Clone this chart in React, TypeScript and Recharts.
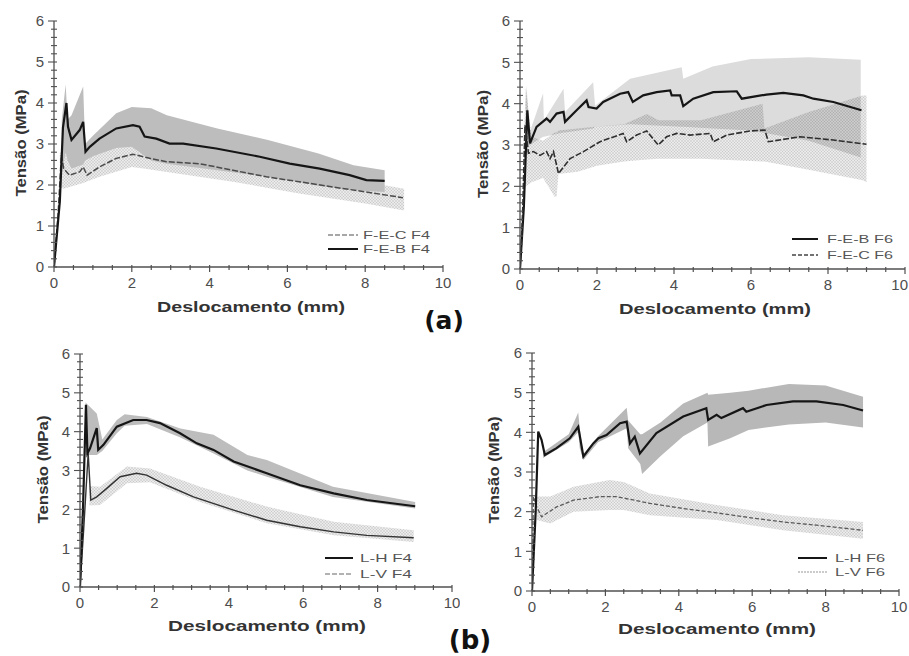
import React from "react";
import { ComposedChart, Line, Area, XAxis, YAxis, Label } from "recharts";

// ---- axis ticks (mm / MPa) ----
const X_TICKS = [0, 0.5, 1, 1.5, 2, 2.5, 3, 3.5, 4, 4.5, 5, 5.5, 6, 6.5, 7, 7.5, 8, 8.5, 9, 9.5, 10];
const Y_TICKS = [
  0, 0.2, 0.4, 0.6, 0.8, 1, 1.2, 1.4, 1.6, 1.8, 2, 2.2, 2.4, 2.6, 2.8, 3, 3.2, 3.4, 3.6, 3.8, 4,
  4.2, 4.4, 4.6, 4.8, 5, 5.2, 5.4, 5.6, 5.8, 6,
];

// ---- (a) left: F4 ----
const febF4X = [0, 0.15, 0.23, 0.32, 0.36, 0.45, 0.66, 0.75, 0.81, 0.92, 1.17, 1.6, 2.03, 2.2, 2.33, 2.63, 2.97, 3.32, 4.17, 5.29, 6.06, 6.83, 7.6, 8.03, 8.5];
const febF4Y = [0, 1.6, 3.4, 4.0, 3.42, 3.1, 3.34, 3.54, 2.81, 2.93, 3.13, 3.38, 3.46, 3.42, 3.18, 3.13, 3.01, 3.01, 2.89, 2.69, 2.52, 2.4, 2.24, 2.12, 2.1];
const febF4BandX = [0.2, 0.3, 0.35, 0.45, 0.75, 0.8, 1.0, 1.6, 2.0, 2.5, 2.9, 4.2, 5.5, 6.8, 7.7, 8.5];
const febF4Hi = [3.6, 4.45, 3.6, 3.7, 4.4, 3.0, 3.2, 3.75, 3.9, 3.87, 3.7, 3.38, 3.1, 2.77, 2.48, 2.36];
const febF4Lo = [2.3, 2.8, 2.6, 2.4, 2.5, 2.6, 2.7, 2.9, 2.93, 2.6, 2.52, 2.36, 2.2, 1.98, 1.87, 1.83];

const fecF4X = [0, 0.1, 0.19, 0.25, 0.4, 0.66, 0.75, 0.85, 1.17, 1.6, 2.03, 2.46, 2.89, 3.74, 4.6, 5.46, 6.3, 7.17, 8.03, 8.97];
const fecF4Y = [0, 1.2, 2.73, 2.4, 2.24, 2.32, 2.44, 2.24, 2.44, 2.65, 2.75, 2.65, 2.57, 2.52, 2.36, 2.2, 2.08, 1.95, 1.83, 1.69];
const fecF4BandX = [0.15, 0.25, 0.4, 0.75, 1.17, 2.0, 2.3, 2.9, 4.6, 6.3, 8.0, 9.0];
const fecF4Hi = [2.77, 2.9, 2.8, 2.93, 2.9, 3.01, 2.95, 2.65, 2.52, 2.32, 2.08, 1.91];
const fecF4Lo = [1.95, 1.91, 1.95, 2.05, 2.2, 2.44, 2.4, 2.32, 2.08, 1.79, 1.55, 1.38];

// ---- (a) right: F6 ----
const febF6X = [0, 0.1, 0.19, 0.26, 0.43, 0.69, 0.78, 0.95, 1.13, 1.17, 1.47, 1.73, 1.78, 1.99, 2.16, 2.6, 2.81, 2.93, 3.2, 3.55, 3.9, 3.94, 4.16, 4.24, 4.5, 5.02, 5.63, 5.76, 6.4, 6.84, 7.36, 7.62, 8.14, 8.87];
const febF6Y = [0, 1.5, 3.84, 3.04, 3.44, 3.64, 3.56, 3.76, 3.8, 3.56, 3.84, 4.08, 3.92, 3.88, 4.04, 4.24, 4.28, 4.04, 4.2, 4.28, 4.32, 4.2, 4.2, 3.94, 4.12, 4.28, 4.3, 4.12, 4.22, 4.26, 4.2, 4.12, 4.04, 3.84];
const febF6BandX = [0.15, 0.17, 0.25, 0.6, 0.62, 1.13, 1.17, 1.9, 1.95, 2.86, 4.2, 4.24, 5.0, 6.0, 7.5, 8.85];
const febF6Hi = [4.0, 4.45, 3.3, 4.25, 3.6, 4.36, 3.8, 4.52, 3.95, 4.6, 4.88, 4.6, 4.9, 5.08, 5.12, 5.06];
const febF6Lo = [2.6, 2.9, 3.0, 3.2, 3.2, 3.3, 3.3, 3.4, 3.44, 3.5, 3.44, 3.44, 3.4, 3.35, 3.1, 2.7];

const fecF6X = [0, 0.07, 0.13, 0.22, 0.35, 0.52, 0.69, 0.78, 0.87, 1.0, 1.3, 1.65, 2.08, 2.68, 2.77, 3.03, 3.29, 3.59, 3.81, 4.07, 4.42, 4.94, 5.02, 5.37, 5.97, 6.36, 6.45, 7.27, 8.14, 9.0];
const fecF6Y = [0, 1.4, 3.48, 2.8, 2.84, 2.75, 2.84, 2.67, 2.84, 2.31, 2.67, 2.84, 3.08, 3.28, 3.08, 3.24, 3.34, 3.0, 3.2, 3.28, 3.24, 3.28, 3.08, 3.24, 3.34, 3.36, 3.08, 3.2, 3.12, 3.02];
const fecF6BandX = [0.1, 0.15, 0.3, 0.6, 0.9, 0.95, 1.0, 1.5, 2.0, 2.7, 3.3, 3.6, 4.7, 6.3, 6.35, 7.5, 8.9, 9.0];
const fecF6Hi = [3.2, 4.4, 3.2, 3.1, 3.3, 3.3, 3.35, 3.4, 3.45, 3.5, 3.75, 3.6, 3.6, 4.0, 3.4, 3.8, 4.2, 4.2];
const fecF6Lo = [1.9, 2.0, 2.1, 2.2, 1.75, 1.75, 2.3, 2.35, 2.5, 2.6, 2.65, 2.67, 2.67, 2.6, 2.6, 2.4, 2.15, 2.1];

// ---- (b) left: L F4 ----
const lhF4X = [0, 0.08, 0.16, 0.2, 0.27, 0.45, 0.49, 0.63, 0.99, 1.43, 1.79, 2.15, 2.69, 3.14, 3.59, 4.13, 5.02, 5.92, 6.82, 7.71, 9.01];
const lhF4Y = [0, 2.0, 4.69, 3.44, 3.57, 4.09, 3.53, 3.66, 4.13, 4.3, 4.3, 4.22, 3.96, 3.7, 3.53, 3.23, 2.93, 2.62, 2.41, 2.24, 2.08];
const lhF4BandX = [0.15, 0.45, 0.6, 0.99, 1.2, 1.8, 2.7, 3.59, 4.5, 5.02, 6.8, 9.01];
const lhF4Hi = [4.75, 4.47, 3.8, 4.3, 4.45, 4.38, 4.08, 3.92, 3.4, 3.27, 2.58, 2.19];
const lhF4Lo = [3.4, 3.4, 3.5, 3.96, 4.15, 4.2, 3.85, 3.44, 3.0, 2.84, 2.32, 2.02];

const lvF4X = [0, 0.1, 0.22, 0.29, 0.45, 0.72, 1.08, 1.52, 1.79, 2.33, 3.05, 4.13, 5.02, 5.92, 6.82, 7.71, 8.97];
const lvF4Y = [0, 1.5, 3.44, 2.24, 2.32, 2.54, 2.84, 2.93, 2.88, 2.62, 2.32, 1.98, 1.72, 1.55, 1.42, 1.33, 1.27];
const lvF4BandX = [0.25, 0.54, 1.26, 1.88, 3.23, 5.02, 6.82, 8.97];
const lvF4Hi = [2.6, 2.58, 3.1, 3.05, 2.58, 2.07, 1.68, 1.46];
const lvF4Lo = [2.1, 2.11, 2.67, 2.7, 2.19, 1.64, 1.33, 1.16];

// ---- (b) right: L F6 ----
const lhF6X = [0, 0.1, 0.17, 0.26, 0.35, 0.67, 1.03, 1.26, 1.4, 1.67, 1.81, 2.03, 2.4, 2.58, 2.67, 2.8, 2.94, 3.39, 4.12, 4.75, 4.8, 5.03, 5.16, 5.75, 5.84, 6.39, 7.11, 7.75, 8.48, 9.02];
const lhF6Y = [0, 2.0, 4.02, 3.81, 3.43, 3.6, 3.85, 4.14, 3.39, 3.72, 3.85, 3.93, 4.23, 4.27, 3.72, 3.89, 3.47, 3.98, 4.4, 4.61, 4.31, 4.44, 4.36, 4.61, 4.52, 4.69, 4.78, 4.78, 4.69, 4.55];
const lhF6BandX = [0.3, 1.0, 1.26, 1.3, 1.4, 1.8, 2.58, 2.62, 2.95, 3.0, 3.5, 4.12, 4.78, 4.8, 5.4, 5.9, 7.0, 8.0, 9.02];
const lhF6Hi = [3.5, 3.95, 4.5, 4.1, 3.45, 3.9, 4.62, 4.3, 3.95, 3.95, 4.25, 4.73, 5.0, 4.95, 5.0, 5.05, 5.22, 5.18, 4.9];
const lhF6Lo = [3.35, 3.75, 4.0, 3.6, 3.3, 3.75, 4.1, 3.6, 3.2, 2.95, 3.4, 3.9, 4.25, 3.64, 3.85, 4.06, 4.2, 4.25, 4.12];

const lvF6X = [0, 0.02, 0.04, 0.13, 0.26, 0.67, 1.13, 1.85, 2.3, 3.21, 4.12, 5.03, 5.93, 6.84, 7.75, 9.02];
const lvF6Y = [0, 1.2, 2.38, 2.12, 1.87, 2.12, 2.29, 2.38, 2.38, 2.21, 2.08, 1.97, 1.85, 1.74, 1.66, 1.53];
const lvF6BandX = [0.13, 0.5, 1.13, 2.12, 2.5, 3.21, 5.03, 6.84, 9.02];
const lvF6Hi = [2.38, 2.38, 2.63, 2.8, 2.75, 2.46, 2.17, 1.91, 1.74];
const lvF6Lo = [1.79, 1.7, 2.0, 2.04, 2.04, 1.91, 1.79, 1.53, 1.32];

const pts = (xs: number[], ys: number[]) => xs.map((x, i) => ({ x, y: ys[i] }));
const band = (xs: number[], lo: number[], hi: number[]) => xs.map((x, i) => ({ x, r: [lo[i], hi[i]] }));

const SANS = '"Liberation Sans", Arial, sans-serif';
const AXIS = "#505050";
const TICK_FILL = "#4d4d4d";

// x ticks every 0.5 mm, labels on the even values; `tightRight` pulls the last label in
const makeXTick = (tightRight: boolean) => (props: any) => {
  const { x, y, payload } = props;
  const v = payload.value as number;
  const major = Math.abs(v / 2 - Math.round(v / 2)) < 1e-6;
  const last = tightRight && v === 10;
  return (
    <g>
      <line x1={x} x2={x} y1={y - 2} y2={y + (major ? 5 : 3)} stroke={AXIS} strokeWidth={1.2} />
      {major && (
        <text
          x={last ? x + 3 : x}
          y={y + 21}
          textAnchor={last ? "end" : "middle"}
          fontFamily={SANS}
          fontSize={15}
          fill={TICK_FILL}
        >
          {v}
        </text>
      )}
    </g>
  );
};

function YTick(props: any) {
  const { x, y, payload } = props;
  const v = payload.value as number;
  const major = Math.abs(v - Math.round(v)) < 1e-6;
  return (
    <g>
      <line x1={major ? x - 6 : x - 3} x2={x + 3} y1={y} y2={y} stroke={AXIS} strokeWidth={1.1} />
      {major && (
        <text x={x - 10} y={y} dy="0.36em" textAnchor="end" fontFamily={SANS} fontSize={15} fill={TICK_FILL}>
          {v}
        </text>
      )}
    </g>
  );
}

type Series = { data: any[]; stroke: string; width: number; dash?: string };
type BandS = { data: any[]; fill: string };
type PanelProps = {
  id: string;
  left: number;
  top: number;
  width: number;
  height: number;
  margin: { top: number; right: number };
  yW: number;
  xH: number;
  tightRight?: boolean;
  bands: BandS[];
  lines: Series[];
  xTitle: { x: number; y: number; len: number };
  yTitle: { x: number; y: number; len: number };
};

function Panel(p: PanelProps) {
  const XTick = makeXTick(!!p.tightRight);
  return (
    <div style={{ position: "absolute", left: p.left, top: p.top }}>
      <ComposedChart width={p.width} height={p.height} margin={{ top: p.margin.top, right: p.margin.right, left: 0, bottom: 0 }}>
        <defs>
          <pattern id={`hatch-${p.id}`} width="3" height="3" patternUnits="userSpaceOnUse">
            <rect width="3" height="3" fill="#000" fillOpacity={0.08} />
            <path d="M0,0 L3,3 M3,0 L0,3" stroke="#000" strokeOpacity={0.1} strokeWidth={0.8} />
          </pattern>
        </defs>
        <XAxis
          dataKey="x"
          type="number"
          domain={[0, 10]}
          ticks={X_TICKS}
          interval={0}
          allowDataOverflow
          height={p.xH}
          tickSize={0}
          tickMargin={0}
          tickLine={false}
          axisLine={{ stroke: AXIS, strokeWidth: 1.3 }}
          tick={XTick}
        >
          <Label
            content={() => (
              <text
                x={p.xTitle.x}
                y={p.xTitle.y}
                textAnchor="middle"
                dominantBaseline="central"
                textLength={p.xTitle.len}
                lengthAdjust="spacingAndGlyphs"
                fontFamily={SANS}
                fontWeight="bold"
                fontSize={15}
                fill="#333"
              >
                Deslocamento (mm)
              </text>
            )}
          />
        </XAxis>
        <YAxis
          type="number"
          domain={[0, 6]}
          ticks={Y_TICKS}
          interval={0}
          allowDataOverflow
          width={p.yW}
          tickSize={0}
          tickMargin={0}
          tickLine={false}
          axisLine={{ stroke: AXIS, strokeWidth: 1.3 }}
          tick={YTick}
        >
          <Label
            content={() => (
              <text
                x={p.yTitle.x}
                y={p.yTitle.y}
                transform={`rotate(-90 ${p.yTitle.x} ${p.yTitle.y})`}
                textAnchor="middle"
                dominantBaseline="central"
                textLength={p.yTitle.len}
                lengthAdjust="spacingAndGlyphs"
                fontFamily={SANS}
                fontWeight="bold"
                fontSize={15}
                fill="#333"
              >
                Tensão (MPa)
              </text>
            )}
          />
        </YAxis>
        {p.bands.map((b, i) => (
          <Area
            key={`b${i}`}
            data={b.data}
            dataKey="r"
            type="linear"
            stroke="none"
            fill={b.fill.startsWith("url") ? b.fill.replace("ID", p.id) : b.fill}
            fillOpacity={1}
            isAnimationActive={false}
            activeDot={false}
          />
        ))}
        {p.lines.map((l, i) => (
          <Line
            key={`l${i}`}
            data={l.data}
            dataKey="y"
            type="linear"
            stroke={l.stroke}
            strokeWidth={l.width}
            strokeDasharray={l.dash}
            dot={false}
            activeDot={false}
            isAnimationActive={false}
          />
        ))}
      </ComposedChart>
    </div>
  );
}

type LegendItem = { label: string; stroke: string; width: number; dash?: string };
function LegendBox({ x1, x2, tx, rows, len, items }: { x1: number; x2: number; tx: number; rows: number[]; len: number; items: LegendItem[] }) {
  return (
    <g>
      {items.map((it, i) => (
        <g key={it.label}>
          <line x1={x1} x2={x2} y1={rows[i]} y2={rows[i]} stroke={it.stroke} strokeWidth={it.width} strokeDasharray={it.dash} />
          <text
            x={tx}
            y={rows[i]}
            dominantBaseline="central"
            textLength={len}
            lengthAdjust="spacingAndGlyphs"
            fontFamily={SANS}
            fontSize={11}
            fill="#555"
          >
            {it.label}
          </text>
        </g>
      ))}
    </g>
  );
}

const BLACK = "#161616";

export default function App() {
  return (
    <div style={{ position: "absolute", left: 0, top: 0, width: 909, height: 656, background: "#fff", overflow: "hidden" }}>
      <Panel
        id="p1"
        left={0}
        top={0}
        width={460}
        height={330}
        margin={{ top: 21, right: 17 }}
        yW={54}
        xH={63}
        bands={[
          { data: band(fecF4BandX, fecF4Lo, fecF4Hi), fill: "url(#hatch-ID)" },
          { data: band(febF4BandX, febF4Lo, febF4Hi), fill: "#bdbdbd" },
        ]}
        lines={[
          { data: pts(fecF4X, fecF4Y), stroke: "#4a4a4a", width: 1.5, dash: "6 2" },
          { data: pts(febF4X, febF4Y), stroke: BLACK, width: 2.2 },
        ]}
        xTitle={{ x: 251, y: 306, len: 188 }}
        yTitle={{ x: 20, y: 143, len: 107 }}
      />
      <Panel
        id="p2"
        left={460}
        top={0}
        width={449}
        height={330}
        margin={{ top: 21, right: 4 }}
        yW={60}
        xH={61}
        tightRight
        bands={[
          { data: band(febF6BandX, febF6Lo, febF6Hi), fill: "#dcdcdc" },
          { data: band(fecF6BandX, fecF6Lo, fecF6Hi), fill: "url(#hatch-ID)" },
        ]}
        lines={[
          { data: pts(febF6X, febF6Y), stroke: BLACK, width: 2.2 },
          { data: pts(fecF6X, fecF6Y), stroke: "#2e2e2e", width: 1.6, dash: "6 2" },
        ]}
        xTitle={{ x: 255, y: 308, len: 192 }}
        yTitle={{ x: 22, y: 144, len: 108 }}
      />
      <Panel
        id="p3"
        left={0}
        top={330}
        width={460}
        height={326}
        margin={{ top: 24, right: 8 }}
        yW={80}
        xH={69}
        bands={[
          { data: band(lvF4BandX, lvF4Lo, lvF4Hi), fill: "url(#hatch-ID)" },
          { data: band(lhF4BandX, lhF4Lo, lhF4Hi), fill: "#bdbdbd" },
        ]}
        lines={[
          { data: pts(lvF4X, lvF4Y), stroke: "#333", width: 1.4 },
          { data: pts(lhF4X, lhF4Y), stroke: BLACK, width: 2.2 },
        ]}
        xTitle={{ x: 267, y: 295, len: 198 }}
        yTitle={{ x: 42, y: 139.5, len: 108 }}
      />
      <Panel
        id="p4"
        left={460}
        top={330}
        width={449}
        height={326}
        margin={{ top: 23, right: 10 }}
        yW={72}
        xH={65}
        bands={[
          { data: band(lvF6BandX, lvF6Lo, lvF6Hi), fill: "url(#hatch-ID)" },
          { data: band(lhF6BandX, lhF6Lo, lhF6Hi), fill: "#b8b8b8" },
        ]}
        lines={[
          { data: pts(lvF6X, lvF6Y), stroke: "#5a5a5a", width: 1.3, dash: "4 2" },
          { data: pts(lhF6X, lhF6Y), stroke: BLACK, width: 2.2 },
        ]}
        xTitle={{ x: 257, y: 298, len: 198 }}
        yTitle={{ x: 33, y: 140, len: 107 }}
      />
      <svg width={909} height={656} style={{ position: "absolute", left: 0, top: 0, pointerEvents: "none" }}>
        <LegendBox
          x1={328}
          x2={358}
          tx={363}
          rows={[235, 249]}
          len={67}
          items={[
            { label: "F-E-C F4", stroke: "#8a8a8a", width: 1.5, dash: "5 2" },
            { label: "F-E-B F4", stroke: BLACK, width: 2 },
          ]}
        />
        <LegendBox
          x1={792}
          x2={818}
          tx={827}
          rows={[239, 255]}
          len={66}
          items={[
            { label: "F-E-B F6", stroke: BLACK, width: 2 },
            { label: "F-E-C F6", stroke: "#444", width: 1.5, dash: "4 2" },
          ]}
        />
        <LegendBox
          x1={325}
          x2={353}
          tx={360}
          rows={[558, 574]}
          len={52}
          items={[
            { label: "L-H F4", stroke: BLACK, width: 2 },
            { label: "L-V F4", stroke: "#999", width: 1.3, dash: "5 2" },
          ]}
        />
        <LegendBox
          x1={798}
          x2={827}
          tx={835}
          rows={[558, 572]}
          len={50}
          items={[
            { label: "L-H F6", stroke: BLACK, width: 2 },
            { label: "L-V F6", stroke: "#bbb", width: 1.3, dash: "2 1" },
          ]}
        />
        <text x={444} y={329} textAnchor="middle" fontFamily='"DejaVu Sans", sans-serif' fontWeight="bold" fontSize={25} fill="#111">
          (a)
        </text>
        <text x={470} y={649} textAnchor="middle" fontFamily='"DejaVu Sans", sans-serif' fontWeight="bold" fontSize={26} fill="#111">
          (b)
        </text>
      </svg>
    </div>
  );
}
